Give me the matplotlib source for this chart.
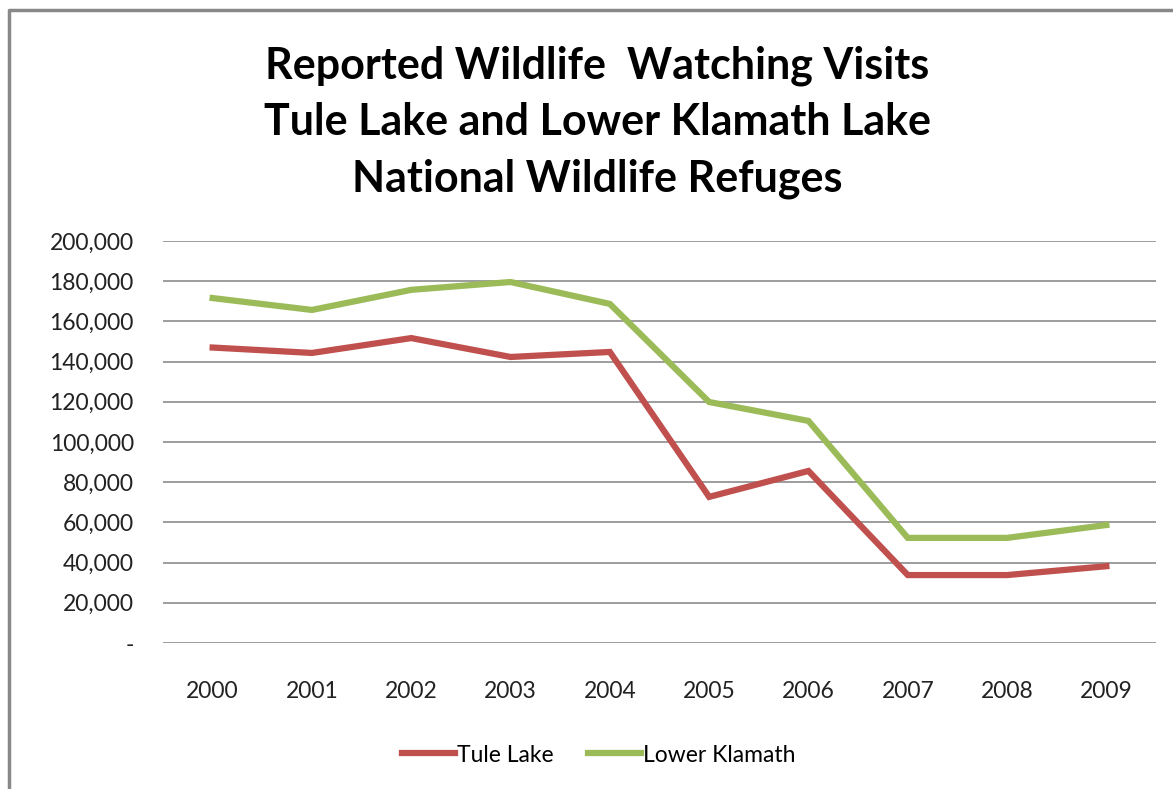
import matplotlib
matplotlib.use("Agg")
import matplotlib.pyplot as plt
from matplotlib.lines import Line2D
from matplotlib.ticker import FuncFormatter

years = ["2000", "2001", "2002", "2003", "2004", "2005", "2006", "2007", "2008", "2009"]
tule_lake = [147000, 144300, 151700, 142300, 144800, 72700, 85600, 33800, 33800, 38200]
lower_klamath = [171600, 165700, 175700, 179600, 168700, 119900, 110500, 52300, 52300, 58700]

W, H = 1173, 789
plt.rcParams["font.family"] = ["Lato", "DejaVu Sans"]

fig = plt.figure(figsize=(W / 100, H / 100), dpi=100)
fig.patch.set_facecolor("white")
ax = fig.add_axes([163 / W, 1 - 643 / H, (1156 - 163) / W, (643 - 241) / H])

x = range(len(years))
ax.plot(x, tule_lake, color="#c0504d", lw=4.5, solid_joinstyle="miter", label="Tule Lake")
ax.plot(x, lower_klamath, color="#9bbb59", lw=4.5, solid_joinstyle="miter", label="Lower Klamath")

ax.set_xlim(-0.5, len(years) - 0.5)
ax.set_ylim(0, 200000)
ax.set_yticks(range(0, 200001, 20000))
ax.yaxis.set_major_formatter(FuncFormatter(lambda v, _: "-" if v == 0 else f"{int(v):,}"))
ax.set_xticks(list(x))
ax.set_xticklabels(years)
ax.grid(axis="y", color="#8c8c8c", lw=1.2)
ax.set_axisbelow(True)
for s in ax.spines.values():
    s.set_visible(False)
ax.tick_params(length=0, labelsize=16.5, colors="#222222")
ax.tick_params(axis="y", pad=21)
ax.tick_params(axis="x", pad=27)

fig.text(597 / W, 1 - 122 / H,
         "Reported Wildlife  Watching Visits\nTule Lake and Lower Klamath Lake\nNational Wildlife Refuges",
         ha="center", va="center", fontsize=31, fontweight="bold", linespacing=1.5)

fig.legend(loc="center", bbox_to_anchor=(599 / W, 1 - 755 / H), ncol=2, frameon=False,
           fontsize=16.5, handlelength=2.3, handletextpad=0.1, columnspacing=1.5)

# chart border (left and top visible)
fig.add_artist(Line2D([8.5 / W, 8.5 / W, 1], [0, 1 - 10 / H, 1 - 10 / H],
                      color="#888888", lw=2.5, transform=fig.transFigure))

fig.savefig("out.png", dpi=100, facecolor="white")
